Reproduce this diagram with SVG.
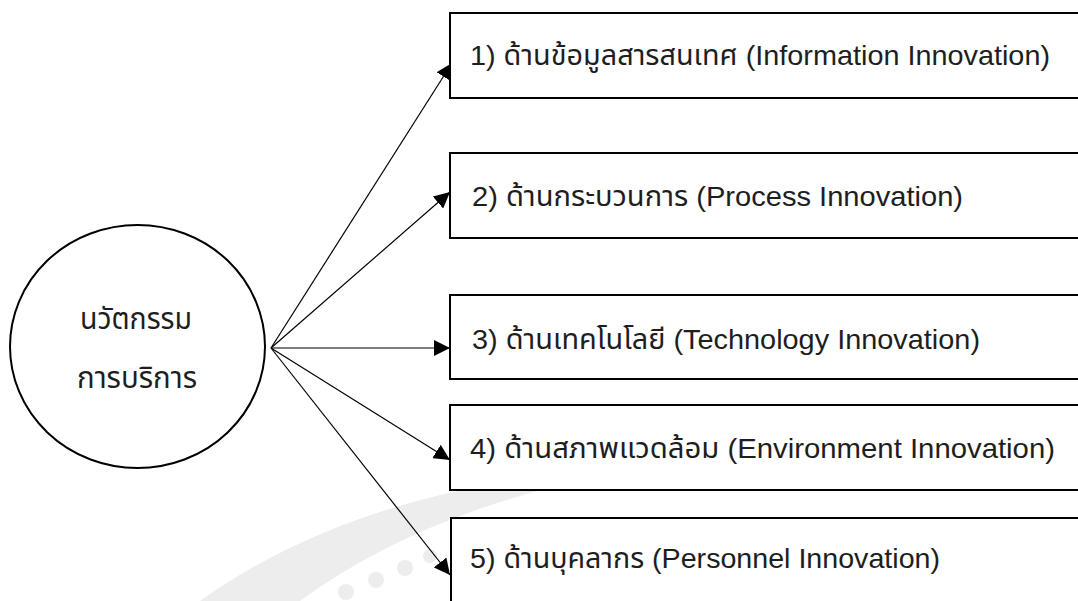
<svg xmlns="http://www.w3.org/2000/svg" width="1078" height="601" viewBox="0 0 1078 601">
  <style>
    .node-shape { fill: #ffffff; stroke: #000000; stroke-width: 2; }
    .label { font-family: "Liberation Sans", "Noto Sans Thai", "Noto Sans", sans-serif; font-size: 28px; fill: #1e1e1e; }
    .big { font-size: 30px; }
    .conn { stroke: #000000; stroke-width: 1.2; fill: none; marker-end: url(#arrow); }
    .wm { fill: #ededed; }
  </style>
  <defs>
    <marker id="arrow" viewBox="0 0 10 10" refX="10" refY="5" markerWidth="16" markerHeight="16" markerUnits="userSpaceOnUse" orient="auto">
      <path d="M0,0 L10,5 L0,10 Z" fill="#000000"/>
    </marker>
  </defs>
  <rect width="1078" height="601" fill="#ffffff"/>
  <g id="watermark">
    <path class="wm" d="M200,601 Q370,480 640,468 Q430,505 300,601 Z"/>
    <circle class="wm" cx="346" cy="592" r="8"/>
    <circle class="wm" cx="376" cy="580" r="8"/>
    <circle class="wm" cx="405" cy="568" r="8"/>
    <circle class="wm" cx="430" cy="556" r="7"/>
  </g>
  <g id="connectors">
    <line class="conn" x1="271" y1="348" x2="452" y2="63"/>
    <line class="conn" x1="271" y1="348" x2="450" y2="192"/>
    <line class="conn" x1="271" y1="348" x2="450" y2="348"/>
    <line class="conn" x1="271" y1="348" x2="450" y2="460"/>
    <line class="conn" x1="271" y1="348" x2="450" y2="575"/>
  </g>
  <g id="center">
    <ellipse class="node-shape" cx="137.5" cy="346.5" rx="127.5" ry="121.5"/>
    <text class="label big" x="80" y="329" textLength="112" lengthAdjust="spacingAndGlyphs">นวัตกรรม</text>
    <text class="label big" x="77" y="388" textLength="120" lengthAdjust="spacingAndGlyphs">การบริการ</text>
  </g>
  <g id="box1">
    <rect class="node-shape" x="450" y="13" width="640" height="85"/>
    <text class="label" x="470" y="65" textLength="580" lengthAdjust="spacingAndGlyphs">1) ด้านข้อมูลสารสนเทศ (Information Innovation)</text>
  </g>
  <g id="box2">
    <rect class="node-shape" x="450" y="153" width="640" height="85"/>
    <text class="label" x="472" y="206" textLength="491" lengthAdjust="spacingAndGlyphs">2) ด้านกระบวนการ (Process Innovation)</text>
  </g>
  <g id="box3">
    <rect class="node-shape" x="450" y="295" width="640" height="84"/>
    <text class="label" x="472" y="349" textLength="508" lengthAdjust="spacingAndGlyphs">3) ด้านเทคโนโลยี (Technology Innovation)</text>
  </g>
  <g id="box4">
    <rect class="node-shape" x="450" y="405" width="640" height="85"/>
    <text class="label" x="470" y="458" textLength="585" lengthAdjust="spacingAndGlyphs">4) ด้านสภาพแวดล้อม (Environment Innovation)</text>
  </g>
  <g id="box5">
    <rect class="node-shape" x="451" y="518" width="640" height="100"/>
    <text class="label" x="470" y="568" textLength="470" lengthAdjust="spacingAndGlyphs">5) ด้านบุคลากร (Personnel Innovation)</text>
  </g>
</svg>
